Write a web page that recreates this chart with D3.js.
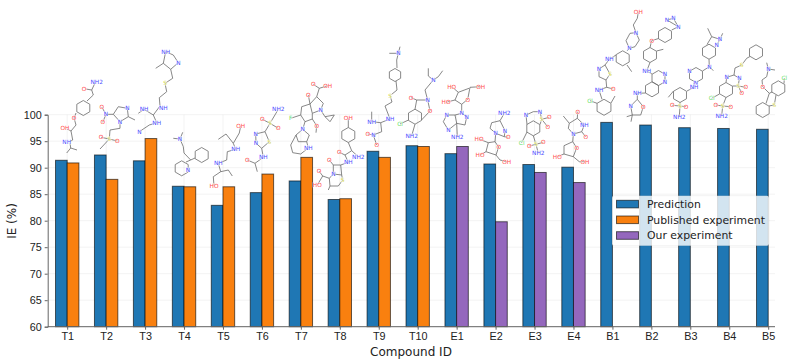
<!DOCTYPE html>
<html lang="en">
<head>
<meta charset="UTF-8">
<title>IE by compound</title>
<script src="https://d3js.org/d3.v7.min.js"></script>
<style>
  html, body { margin: 0; background: #fff; }
  svg { display: block; font-family: "DejaVu Sans", sans-serif; }
  .tick text { font-size: 10.8px; fill: #222; }
  .grid line { stroke: #000; stroke-opacity: 0.05; stroke-width: 1; }
  .bond { fill: none; stroke: #6a6a6a; stroke-width: 0.8; }
  .atom { font-size: 5.8px; text-anchor: middle; dominant-baseline: central; }
</style>
</head>
<body>
<script>
  const compounds = ["T1","T2","T3","T4","T5","T6","T7","T8","T9","T10","E1","E2","E3","E4","B1","B2","B3","B4","B5"];
  const prediction = [91.4,92.4,91.3,86.5,82.9,85.3,87.5,84.0,93.1,94.15,92.65,90.7,90.6,90.1,98.55,98.05,97.55,97.4,97.25];
  const published = [90.9,87.8,95.5,86.4,86.4,88.8,91.95,84.15,91.95,94.0,null,null,null,null,null,null,null,null,null];
  const ours = [null,null,null,null,null,null,null,null,null,null,94.0,79.8,89.1,87.2,null,null,null,null,null];
  const yTicks = [60,65,70,75,80,85,90,95,100];
  const legendNames = ["Prediction","Published experiment","Our experiment"];
  const colors = ["#1f77b4","#f9800f","#9467bd"];

  const width = 797, height = 364;
  const margin = { top: 114.7, right: 22, bottom: 37.3, left: 47.7 };

  const svg = d3.select("body").append("svg")
    .attr("width", width).attr("height", height);

  const x = d3.scalePoint().domain(compounds).range([67.2, 768.2]);
  const y = d3.scaleLinear().domain([60, 100]).range([height - margin.bottom, margin.top]);
  const barW = x.step() * 0.3;

  // grid
  const grid = svg.append("g").attr("class", "grid");
  grid.selectAll(".h").data(yTicks).enter().append("line")
    .attr("x1", margin.left).attr("x2", width - margin.right)
    .attr("y1", d => y(d)).attr("y2", d => y(d));
  grid.selectAll(".v").data(compounds).enter().append("line")
    .attr("x1", d => x(d)).attr("x2", d => x(d))
    .attr("y1", y(60)).attr("y2", y(100));

  // bars
  function drawBars(values, color, offset) {
    svg.append("g").selectAll("rect")
      .data(compounds.map((c, i) => ({ c: c, v: values[i] })).filter(d => d.v !== null))
      .enter().append("rect")
      .attr("x", d => x(d.c) + offset)
      .attr("y", d => y(d.v))
      .attr("width", barW)
      .attr("height", d => y(60) - y(d.v))
      .attr("fill", color)
      .attr("stroke", "#000")
      .attr("stroke-opacity", 0.6)
      .attr("stroke-width", 1);
  }
  drawBars(prediction, colors[0], -barW);
  drawBars(published, colors[1], 0);
  drawBars(ours, colors[2], 0);

  // axes
  const axisX = svg.append("g")
    .attr("transform", `translate(0,${y(60)})`)
    .call(d3.axisBottom(x).tickSize(3).tickPadding(3));
  const axisY = svg.append("g")
    .attr("transform", `translate(${margin.left},0)`)
    .call(d3.axisLeft(y).tickValues(yTicks).tickSize(3).tickPadding(3));
  axisX.select(".domain").attr("d", `M${margin.left},0H${width - margin.right}`);
  svg.selectAll(".domain").attr("stroke", "#666").attr("stroke-width", 1);
  svg.selectAll(".tick line").attr("stroke", "#666");

  svg.append("text")
    .attr("x", 411).attr("y", 356)
    .attr("text-anchor", "middle")
    .attr("font-size", 12).attr("fill", "#222")
    .text("Compound ID");
  svg.append("text")
    .attr("transform", `translate(16,221) rotate(-90)`)
    .attr("text-anchor", "middle")
    .attr("font-size", 12).attr("fill", "#222")
    .text("IE (%)");

  // molecule sketches above the bars: rings [cx,cy,r], bonds as path, atoms [x,y,label,element]
  const atomColors = { O: "#ff4d4d", N: "#4d4dff", S: "#d8d84a", Cl: "#66e066", F: "#66e066" };
  const molecules = [
    { rings: [[83.3,108,7.5]], bonds: "M95,83L91.7,90L93.3,95L87,101M91.7,90L86,89M76,113L74,118L76,125L71,131L72.7,140L69,142M70,143L70.7,148L77,150M70.7,148L66.7,153M71,131L67,129",
      atoms: [[96.7,81.7,"NH2","N"],[84,89,"O","O"],[74,118,"O","O"],[65,128,"OH","O"],[66.7,141.7,"NH","N"]] },
    { rings: [], bonds: "M106,114.3L113.3,114.3L118.3,106.7L127.3,108.3L128.3,116.7L120,121.7L113.3,114.3M128.3,116.7L135,120M120,121.7L120,128.3L110,130L109.3,139L100,149M109.3,139L101,137.3M109.3,139L117.3,141M106,114.3L101.7,107M106,114.3L102.7,122.3",
      atoms: [[106,114.3,"N","N"],[101.7,107,"O","O"],[102.7,122.3,"O","O"],[127.3,108.3,"N","N"],[120,121.7,"N","N"],[109.3,139,"S","S"],[101,137.3,"O","O"],[117.3,141,"O","O"]] },
    { rings: [], bonds: "M165.7,51.7L173.3,55L178.3,62.7L170.7,69.3L163.3,63.3L165.7,51.7M163.3,63.3L155.7,68.3M170.7,69.3L172.7,78.3L165,83.3L166.7,91.7L159.3,97.7L160,106L153.3,115L144,109.3L138.3,113.3M153.3,115L156.7,122.7L149.3,125L139.3,131.7",
      atoms: [[165.7,51.7,"NH","N"],[178.3,62.7,"N","N"],[165,83.3,"S","S"],[163.3,107.7,"NH","N"],[144,109.3,"NH","N"],[156.7,122.7,"NH","N"],[139.3,131.7,"N","N"]] },
    { rings: [[201.7,155,7.5],[181.7,168.3,7.5]], bonds: "M173.3,138.3L180,139L182.7,132.3M180,139L183.3,146.7L184,153L190.7,160L195,158M190.7,160L186,162",
      atoms: [[180,139,"N","N"],[188,170,"N","N"]] },
    { rings: [], bonds: "M240.7,126L239.3,133L233.3,143.3L226,134L218.3,139.3M233.3,143.3L235.7,149.3L227.3,151.7L226.7,160L218.3,163.3L220.7,171.7L228.3,170L232.3,176M220.7,171.7L213.3,176.7L214,186",
      atoms: [[240.7,126,"OH","O"],[235.7,149.3,"NH","N"],[218.3,163.3,"NH","N"],[214,186,"HO","O"]] },
    { rings: [], bonds: "M278.3,109.3L270,123.3L262.3,119.3M270,123.3L278.3,128.3M270,123.3L265,131.7L269.3,141.7L261.7,148.3L256,143.3L255.7,134L265,131.7M261.7,148.3L263.3,157.3L255,163.3L247.3,160M255,163.3L257.3,171.7",
      atoms: [[278.3,109.3,"NH2","N"],[270,123.3,"S","S"],[262.3,119.3,"O","O"],[278.3,128.3,"O","O"],[269.3,141.7,"S","S"],[256,143.3,"N","N"],[255.7,134,"N","N"],[263.3,157.3,"NH","N"],[247.3,160,"O","O"]] },
    { rings: [], bonds: "M313.3,84.3L319.3,88.3L327.7,85.7M319.3,88.3L316.7,96.7L323.3,103.3L320.7,110L312.3,113.3L310,104L316.7,96.7M310,104L308.3,95M310,104L301.7,106.7L300.7,115L305,121.7L312.3,119L312.3,113.3M300.7,115L290.7,118.3M312.3,119L316.7,125.7L316,132.7M320.7,110L325,116.7L334.3,115L330,121.7L325,116.7M305,121.7L302.7,129.3L296,135L298.3,141.7L306.7,141.7L309.3,135L302.7,129.3M296,135L290.7,145L292.7,152.7L300.7,154L308.3,148L306.7,141.7",
      atoms: [[313.3,84.3,"O","O"],[327.7,85.7,"OH","O"],[308.3,95,"O","O"],[320.7,110,"N","N"],[290.7,118.3,"F","F"],[316.7,125.7,"O","O"],[302.7,129.3,"N","N"],[308.3,148,"NH","N"]] },
    { rings: [[348.3,135,7.5]], bonds: "M348.3,118.3L348.3,127.5M348.3,142.5L351.7,150.7L358.3,156.7M351.7,150.7L345,155L339.3,152.3M345,155L348.3,162.3L340.7,165L341.7,175L333.3,174L333.3,165L340.7,165M333.3,165L329.3,160M341.7,175L342.7,180L338.3,186L330,186L329.3,178.3L333.3,174M330,186L328.3,190M329.3,178.3L322.7,176L319,171M322.7,176L317.3,185",
      atoms: [[348.3,118.3,"OH","O"],[358.3,156.7,"NH2","N"],[339.3,152.3,"O","O"],[348.3,162.3,"NH","N"],[329.3,160,"O","O"],[333.3,174,"N","N"],[342.7,180,"S","S"],[319,171,"O","O"],[317.3,185,"HO","O"]] },
    { rings: [[395,75,6.5]], bonds: "M389.3,53.3L398.3,53.3L400,46.7M398.3,53.3L396.7,60L397,68M396,81L397,90L390,95.7L392,102L385,106L390,119L380.7,122.7L371.7,121.7L371.7,111.7M380.7,122.7L381.7,131.7L373.3,135L367.7,134M373.3,135L376.7,145",
      atoms: [[398.3,53.3,"N","N"],[390,95.7,"S","S"],[390,119,"NH","N"],[371.7,121.7,"NH","N"],[373.3,135,"N","N"],[367.7,134,"O","O"],[376.7,145,"O","O"]] },
    { rings: [[415,116.7,7.5]], bonds: "M428.3,68.3L428.3,76L433.3,80L438.3,76.7L442.7,70.7M433.3,80L425,90L427.7,100L416.7,100L411,97.7M416.7,100L415,109.2M427.7,100L430,111L421.5,120M400,124L408.5,120M411.7,135.7L415,124.2",
      atoms: [[433.3,80,"N","N"],[427.7,100,"N","N"],[411,97.7,"O","O"],[430,111,"O","O"],[400,124,"Cl","Cl"],[411.7,135.7,"NH2","N"]] },
    { rings: [], bonds: "M480.7,86.7L470,87.3L467.7,99.3L461.7,104.3L455,100L458.3,92.3L469,88.3M458.3,92.3L451.7,86.7M455,100L446,102.3M461.7,104.3L461.7,113.3L466.7,116.7L465,125L456.7,123.3L455,115L461.7,113.3M455,115L446.7,115L443.3,121.7L448.3,130L456.7,123.3M456.7,123.3L457.3,136.7",
      atoms: [[480.7,86.7,"OH","O"],[467.7,100,"O","O"],[451.7,86.7,"HO","O"],[446,102.3,"HO","O"],[461.7,113.3,"N","N"],[466.7,116.7,"N","N"],[446.7,115,"N","N"],[448.3,130,"N","N"],[457.3,136.7,"NH2","N"]] },
    { rings: [], bonds: "M504.3,113.3L500,120.7L505,130.7L504.3,136.7L495.7,133.3L490,128.3L491.7,122.7L500,120.7M504.3,136.7L508.3,137.3M495.7,133.3L495,141.7L498.7,147L496,155L486,151.7L488.3,142.7L495,141.7M488.3,142.7L479,139M486,151.7L480,155M496,155L500,160L506.7,161.7",
      atoms: [[504.3,113.3,"NH2","N"],[505,130.7,"N","N"],[508.3,137.3,"O","O"],[495.7,133.3,"N","N"],[498.7,147,"O","O"],[479,139,"HO","O"],[480,155,"HO","O"],[506.7,161.7,"OH","O"]] },
    { rings: [[533.3,128.3,7.5]], bonds: "M526,115L533.3,111.7L540,111.7L541.7,119.3L540,124.5M526,115L527,124.5M541.7,119.3L549.3,117.3M541.7,119.3L547.7,126.7M527,132L521.7,142.7M533.3,135.8L536,144.3L529.3,146M536,144.3L543.3,142.3M536,144.3L538.3,153.3",
      atoms: [[526,115,"N","N"],[540,111.7,"N","N"],[541.7,119.3,"S","S"],[549.3,117.3,"O","O"],[547.7,126.7,"O","O"],[521.7,142.7,"Cl","Cl"],[536,144.3,"S","S"],[529.3,146,"O","O"],[543.3,142.3,"O","O"],[538.3,153.3,"NH2","N"]] },
    { rings: [], bonds: "M563.3,116L569.3,123.3L577.3,118.3L577.7,111.7M577.3,118.3L584.3,125L581.7,131.7L585.7,136.7M581.7,131.7L573.3,134L568.3,128.3L569.3,123.3M573.3,134L572.7,141.7L576.7,147.7L573.3,156.7L564,154L564,145.7L572.7,141.7M564,154L557.3,156.7M573.3,156.7L579.3,161.7L585,161.7",
      atoms: [[577.7,111.7,"O","O"],[584.3,125,"NH","N"],[585.7,136.7,"O","O"],[573.3,134,"N","N"],[576.7,147.7,"O","O"],[557.3,156.7,"HO","O"],[585,161.7,"OH","O"]] },
    { rings: [[622.7,58.3,7.5],[604,107.3,8]], bonds: "M638.3,12.3L637.3,18.3L633.3,25L636,32.7L639.3,40L635,46.7L629.3,48.3L626,40.7L630,33.3L636,32.7M629.3,48.3L627,51M627,65L631.7,71.7M616,55L609.3,59.3L605,65L610,74L606,80L599,76.7L599,69L605,65M606,80L606.7,87.3L613.3,89M606.7,87.3L599,90L602,99.3M597,103.3L590,100.7M611,103L615,96",
      atoms: [[638.3,12.3,"OH","O"],[636,32.7,"N","N"],[629.3,48.3,"N","N"],[609.3,59.3,"NH","N"],[610,74,"S","S"],[599,69,"N","N"],[613.3,89,"O","O"],[599,90,"NH","N"],[590,100.7,"Cl","Cl"]] },
    { rings: [[665,35,7.5],[650,55,7.5],[658.5,78,7.5],[652,89.3,7.5]], bonds: "M667,20L678.3,26.7L671.7,30M667,20L673.3,18.3L678.3,26.7M658.5,38.5L651.7,40.7L650,47.5M656.5,51L663.3,49.3M650,62.5L646.7,71L652,74M645.5,93L637.3,93.3L637.3,99.3L630.7,106L632.3,115L640.7,115L643.3,106.7L637.3,99.3M632.3,115L626.7,116.7M632.3,115L631,121.7",
      atoms: [[667,20,"N","N"],[678.3,26.7,"N","N"],[673.3,18.3,"N","N"],[651.7,40.7,"O","O"],[646.7,71,"NH","N"],[665,74.3,"N","N"],[665,81.7,"N","N"],[637.3,93.3,"NH","N"],[630.7,106,"N","N"],[643.3,106.7,"O","O"]] },
    { rings: [[709,51.7,7.5],[696,75,7.5],[680,95,7.5]], bonds: "M707.7,28.3L711.7,36.7L707,44.5M722.7,33.3L720,39.3L711.7,36.7M720,39.3L716.7,45M709,59.2L709.3,66.7L713.3,70.7M709.3,66.7L702.5,71M694,82.5L694,87.3L687,91M673.5,91L668.3,97.3M680,102.5L680,106L672.3,105.3M680,106L686,106.7M680,106L679.3,116.7",
      atoms: [[720,39.3,"N","N"],[716.7,45,"N","N"],[709.3,66.7,"N","N"],[689.5,71,"N","N"],[696,82.5,"N","N"],[694,87.3,"NH","N"],[680,106,"S","S"],[672.3,105.3,"O","O"],[686,106.7,"O","O"],[679.3,116.7,"NH2","N"]] },
    { rings: [[756,52.3,7.5],[726,90,7.5]], bonds: "M750,56.5L746.7,58.3L741.7,65L735,68L734,75L726.7,77.3L726,82.5M734,75L739.3,78.3L738.3,86L732.5,86M738.3,86L745.7,87.3M738.3,86L741.7,93.3M719.5,94L711.7,98.3M726,97.5L722.7,106L715.7,105M722.7,106L730.7,106.7M722.7,106L721.7,115.7",
      atoms: [[741.7,65,"S","S"],[726.7,77.3,"N","N"],[739.3,78.3,"N","N"],[738.3,86,"S","S"],[745.7,87.3,"O","O"],[741.7,93.3,"O","O"],[711.7,98.3,"Cl","Cl"],[722.7,106,"S","S"],[715.7,105,"O","O"],[730.7,106.7,"O","O"],[721.7,115.7,"NH2","N"]] },
    { rings: [[778.3,88.3,7.5],[762.7,110,7.5]], bonds: "M766.7,62.7L768.3,69L775,70M768.3,69L766.7,76.7L762,80L762.7,86.7L769.3,93.3L772,92M769.3,93.3L766,103.5M776,95L774.3,105L769,106M784,83.5L784.3,78.3",
      atoms: [[768.3,69,"N","N"],[762.7,86.7,"O","O"],[774.3,105,"S","S"],[784.3,78.3,"Cl","Cl"]] }
  ];

  const hexPath = ring => d3.range(6).map(i => {
    const a = Math.PI / 3 * i;
    return (i ? "L" : "M") + (ring[0] + ring[2] * Math.sin(a)) + "," + (ring[1] - ring[2] * Math.cos(a));
  }).join("") + "Z";

  const molLayer = svg.append("g");
  molecules.forEach(m => {
    const g = molLayer.append("g");
    g.append("path").attr("class", "bond")
      .attr("d", m.bonds + m.rings.map(hexPath).join(""));
    g.selectAll("text").data(m.atoms).enter().append("text")
      .attr("class", "atom")
      .attr("x", d => d[0]).attr("y", d => d[1])
      .attr("fill", d => atomColors[d[3]])
      .attr("stroke", "#fff").attr("stroke-width", 1).attr("stroke-opacity", 0.8).attr("paint-order", "stroke")
      .text(d => d[2]);
  });

  // legend
  const legend = svg.append("g");
  legend.append("rect")
    .attr("x", 612).attr("y", 195.7)
    .attr("width", 157).attr("height", 50)
    .attr("rx", 2)
    .attr("fill", "#fff").attr("fill-opacity", 0.8)
    .attr("stroke", "#000").attr("stroke-opacity", 0.05);
  legendNames.forEach((name, i) => {
    legend.append("rect")
      .attr("x", 616.5).attr("y", 200.3 + i * 15.7)
      .attr("width", 22).attr("height", 7.6)
      .attr("fill", colors[i])
      .attr("stroke", "#000").attr("stroke-opacity", 0.6);
    legend.append("text")
      .attr("x", 647).attr("y", 208 + i * 15.7)
      .attr("font-size", 10.85).attr("fill", "#222")
      .text(name);
  });
</script>
</body>
</html>
